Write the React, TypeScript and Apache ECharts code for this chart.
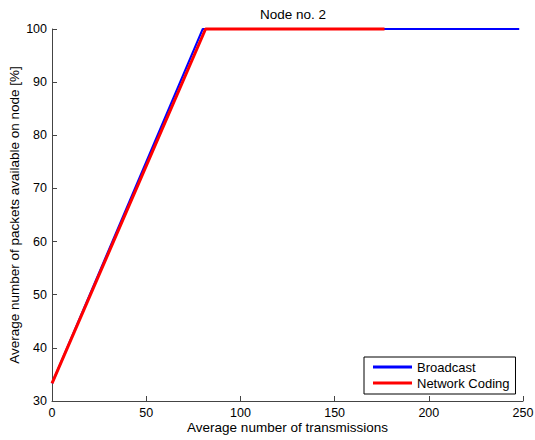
import React, { useEffect, useRef } from "react";
import * as echarts from "echarts";

const titleText = "Node no. 2";
const xAxisName = "Average number of transmissions";
const yAxisName = "Average number of packets available on node [%]";
const seriesNames = ["Broadcast", "Network Coding"];
const broadcastX = [0, 80, 248];
const broadcastY = [33.3, 100, 100];
const codingX = [0, 81.5, 176.5];
const codingY = [33.3, 100, 100];

const FONT = "'Liberation Sans', Arial, Helvetica, sans-serif";

export default function App() {
  const ref = useRef<HTMLDivElement>(null);
  useEffect(() => {
    document.body.style.margin = "0";
    const chart = echarts.init(ref.current!, null, { renderer: "svg" });
    const axisCommon = {
      axisLine: { show: true, lineStyle: { color: "#444", width: 1 } },
      axisTick: { show: true, inside: true, length: 5, lineStyle: { color: "#444" } },
      axisLabel: { color: "#000", fontSize: 12.5, fontFamily: FONT, margin: 5 },
      splitLine: { show: false },
      nameMoveOverlap: false,
      nameTextStyle: { color: "#000", fontSize: 13.5, fontFamily: FONT },
    };
    chart.setOption({
      animation: false,
      backgroundColor: "#fff",
      title: {
        text: titleText,
        left: 288,
        textAlign: "center",
        top: 2,
        textStyle: { fontSize: 13.5, fontWeight: "normal", color: "#000", fontFamily: FONT },
      },
      grid: {
        left: 52,
        right: 12,
        top: 29,
        bottom: 39,
        containLabel: false,
        outerBoundsMode: "none",
      },
      xAxis: {
        type: "value",
        min: 0,
        max: 250,
        interval: 50,
        name: xAxisName,
        nameLocation: "middle",
        nameGap: 19,
        ...axisCommon,
      },
      yAxis: {
        type: "value",
        min: 30,
        max: 100,
        interval: 10,
        name: yAxisName,
        nameLocation: "middle",
        nameGap: 31,
        ...axisCommon,
      },
      legend: {
        orient: "vertical",
        left: 364,
        top: 357,
        data: seriesNames,
        icon: "rect",
        itemWidth: 39,
        itemHeight: 3,
        itemGap: 0,
        padding: [2, 6, 3, 9],
        borderColor: "#000",
        borderWidth: 1,
        backgroundColor: "#fff",
        textStyle: { fontSize: 13, fontFamily: FONT, color: "#000", lineHeight: 16 },
      },
      series: [
        {
          name: seriesNames[0],
          type: "line",
          data: broadcastX.map((x, i) => [x, broadcastY[i]]),
          showSymbol: false,
          symbol: "none",
          clip: false,
          color: "#0000ff",
          lineStyle: { color: "#0000ff", width: 2 },
        },
        {
          name: seriesNames[1],
          type: "line",
          data: codingX.map((x, i) => [x, codingY[i]]),
          showSymbol: false,
          symbol: "none",
          clip: false,
          color: "#ff0000",
          lineStyle: { color: "#ff0000", width: 3 },
        },
      ],
    });
    return () => chart.dispose();
  }, []);
  return <div ref={ref} style={{ width: 535, height: 440 }} />;
}
